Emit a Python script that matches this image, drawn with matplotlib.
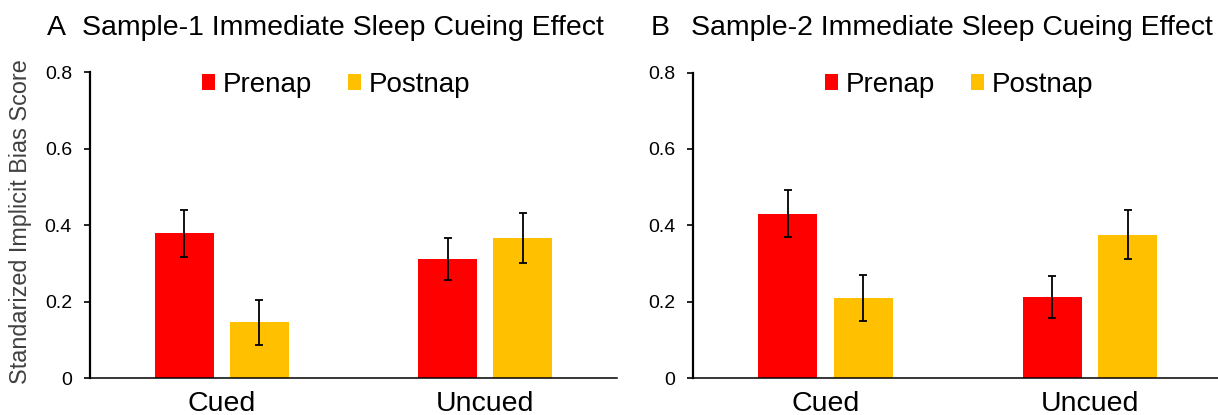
import matplotlib
matplotlib.use("Agg")
import matplotlib.pyplot as plt
import numpy as np
from matplotlib.patches import Patch

plt.rcParams['font.family'] = ['Liberation Sans', 'DejaVu Sans']

categories = ['Cued', 'Uncued']
series_names = ['Prenap', 'Postnap']
colors = ['#FF0000', '#FFC000']

a_prenap = [0.379, 0.312]
a_prenap_err = [0.061, 0.055]
a_postnap = [0.146, 0.367]
a_postnap_err = [0.060, 0.065]

b_prenap = [0.430, 0.212]
b_prenap_err = [0.061, 0.054]
b_postnap = [0.209, 0.375]
b_postnap_err = [0.061, 0.064]

yticks = [0, 0.2, 0.4, 0.6, 0.8]
ytick_labels = ['0', '0.2', '0.4', '0.6', '0.8']

W, H = 1218, 415
DPI = 100
fig = plt.figure(figsize=(W / DPI, H / DPI), dpi=DPI)


def px_axes(left, right, top, bottom):
    return fig.add_axes([left / W, (H - bottom) / H, (right - left) / W, (bottom - top) / H])


def draw_panel(ax, pre, pre_err, post, post_err, legend_x, ylabel=None):
    x = np.arange(len(categories))
    off = 0.1425
    w = 0.223
    ekw = dict(ecolor='black', elinewidth=1.3, capsize=3.2, capthick=1.3)
    ax.bar(x - off, pre, w, color=colors[0], yerr=pre_err, error_kw=ekw, zorder=2)
    ax.bar(x + off, post, w, color=colors[1], yerr=post_err, error_kw=ekw, zorder=2)
    ax.set_xlim(-0.5, len(categories) - 0.5)
    ax.set_ylim(0, 0.8)
    ax.set_yticks(yticks)
    ax.set_yticklabels(ytick_labels)
    ax.set_xticks(x)
    ax.set_xticklabels(categories, fontsize=20.5)
    ax.tick_params(axis='x', length=0, pad=9)
    ax.tick_params(axis='y', direction='out', length=4, width=1.2, labelsize=14, pad=9)
    for s in ['top', 'right']:
        ax.spines[s].set_visible(False)
    ax.spines['left'].set_linewidth(1.6)
    ax.spines['bottom'].set_linewidth(1.1)
    ax.spines['left'].set_color('black')
    ax.spines['bottom'].set_color('black')
    handles = [Patch(facecolor=c, edgecolor='none') for c in colors]
    fig.legend(handles, series_names, loc='center left',
               bbox_to_anchor=(legend_x / W, (H - 85) / H),
               ncol=2, frameon=False, fontsize=20,
               handlelength=0.47, handleheight=0.47, handletextpad=0.28,
               columnspacing=1.3, borderpad=0, borderaxespad=0)
    if ylabel:
        ax.set_ylabel(ylabel)


axA = px_axes(90, 617, 72.5, 378.3)
draw_panel(axA, a_prenap, a_prenap_err, a_postnap, a_postnap_err, 202)
axB = px_axes(693.3, 1222.3, 72.5, 378.0)
draw_panel(axB, b_prenap, b_prenap_err, b_postnap, b_postnap_err, 825)

fig.text(20.5 / W, (H - 221.7) / H, 'Standarized Implicit Bias Score',
         rotation=90, ha='center', va='center', fontsize=16.8, color='#404040')

fig.text(47 / W, (H - 35) / H, 'A', fontsize=20.5, ha='left', va='baseline')
fig.text(82.3 / W, (H - 35) / H, 'Sample-1 Immediate Sleep Cueing Effect',
         fontsize=20.5, ha='left', va='baseline')
fig.text(651 / W, (H - 35) / H, 'B', fontsize=20.5, ha='left', va='baseline')
fig.text(691 / W, (H - 35) / H, 'Sample-2 Immediate Sleep Cueing Effect',
         fontsize=20.5, ha='left', va='baseline')

fig.savefig('out.png', dpi=DPI)
